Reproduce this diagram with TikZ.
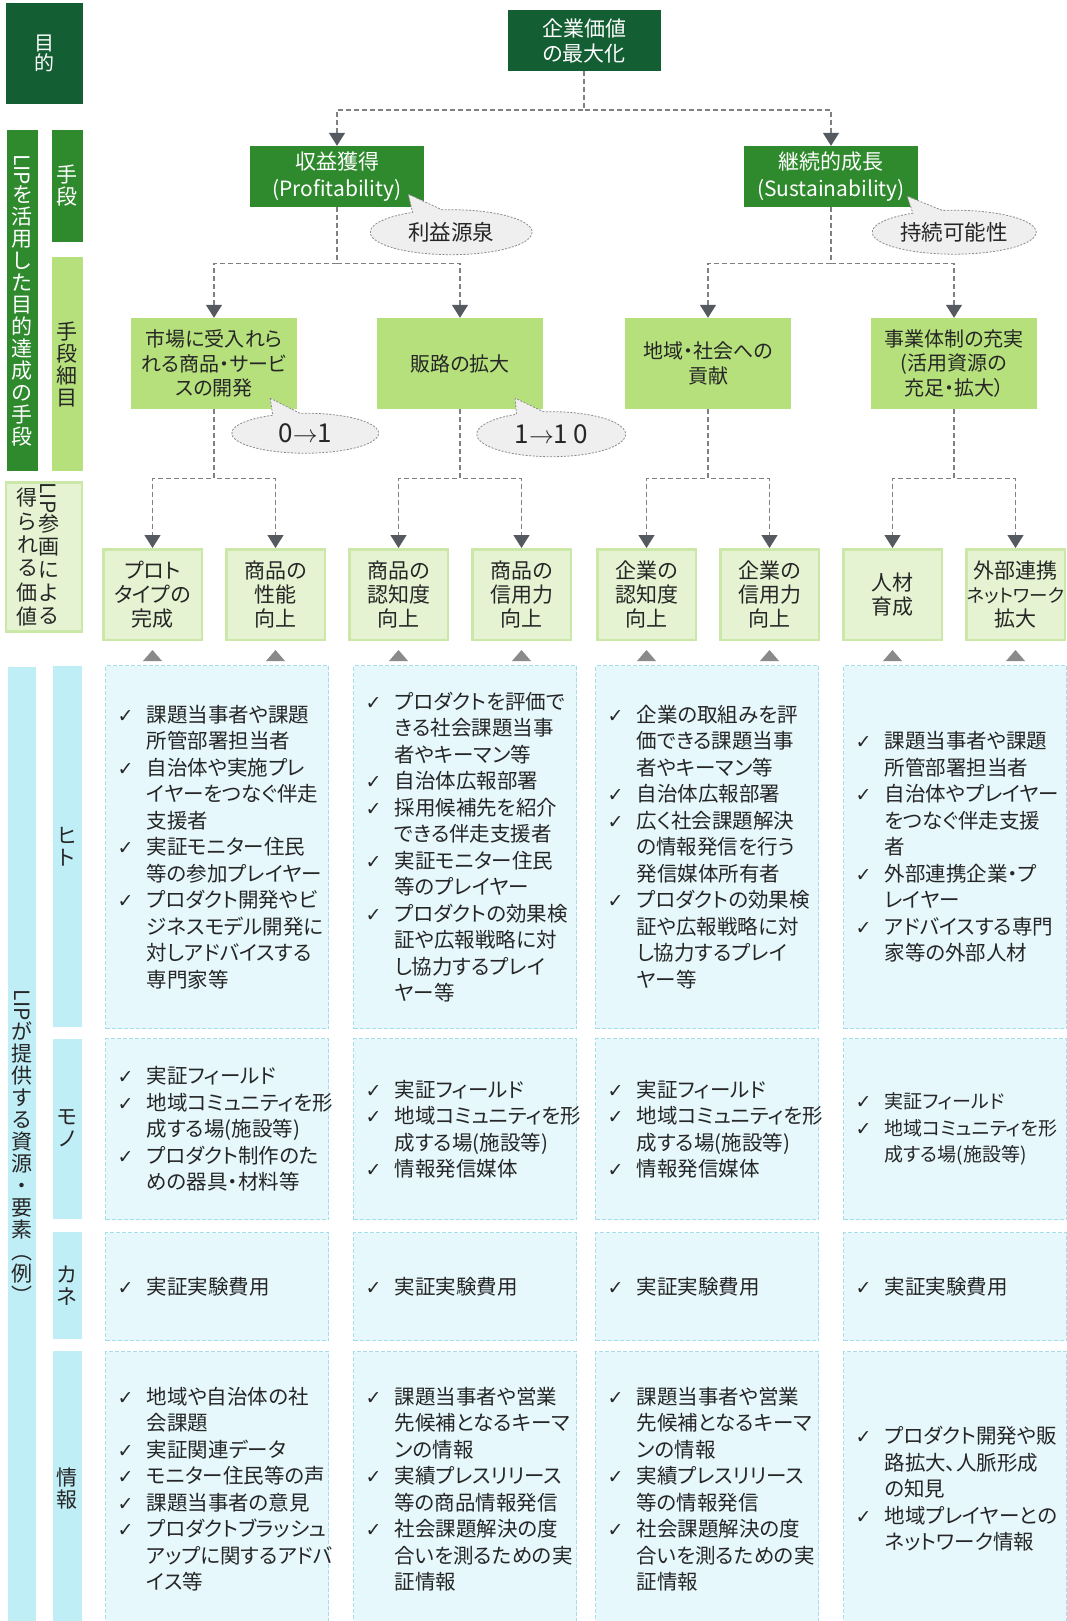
\documentclass[tikz,border=0pt]{standalone}
\usepackage{fontspec}
\setmainfont{Noto Sans CJK JP}[RawFeature=+palt]
\newfontfamily\checkfont{DejaVu Sans}
\usepackage{graphicx}
\usetikzlibrary{arrows.meta,shapes.callouts,calc}
\definecolor{dkgreen}{HTML}{135E33}
\definecolor{midgreen}{HTML}{2F8A2E}
\definecolor{ltgreen}{HTML}{B6E07C}
\definecolor{valfill}{HTML}{E5F3D2}
\definecolor{valdraw}{HTML}{CBE8A8}
\definecolor{cyanbar}{HTML}{BFEEF7}
\definecolor{resfill}{HTML}{E6F8FC}
\definecolor{resdraw}{HTML}{A5DDEB}
\definecolor{callfill}{HTML}{EFEFEF}
\definecolor{calldraw}{HTML}{8C8C8C}
\definecolor{linkgray}{HTML}{808080}
\definecolor{tipgray}{HTML}{555A60}
\definecolor{upgray}{HTML}{8A8A8A}
\definecolor{txtgray}{HTML}{262626}
\newcommand{\ck}{\makebox[29pt][l]{\checkfont\bfseries\fontsize{19pt}{19pt}\selectfont ✓}}
\newcommand{\ckpad}{\hspace*{29pt}}
\newcommand{\lipv}{\rotatebox[origin=c]{-90}{LIP}}

\begin{document}
\begin{tikzpicture}[x=1pt,y=-1pt,
		level 1/.style={level distance=136pt,sibling distance=494pt,
			edge from parent path={(\tikzparentnode.south) -- ++(0,39) -| (\tikzchildnode.north)}},
		level 2/.style={level distance=187pt,sibling distance=246pt,
			edge from parent path={(\tikzparentnode.south) -- ++(0,56) -| (\tikzchildnode.north)}},
		level 3/.style={level distance=231pt,sibling distance=123pt,
			edge from parent path={(\tikzparentnode.south) -- ++(0,69) -| (\tikzchildnode.north)}},
		edge from parent/.style={draw=linkgray,line width=1.4pt,dash pattern=on 5pt off 3pt,
			-{Triangle[width=16pt,length=13pt,color=tipgray]}},
		topbox/.style = {fill=dkgreen,text=white,minimum width=153pt,minimum height=61pt,inner sep=0pt,align=center,font=\fontsize{21pt}{25pt}\selectfont},
		meanbox/.style = {fill=midgreen,text=white,minimum width=174pt,minimum height=61pt,inner sep=0pt,align=center,font=\fontsize{21pt}{27pt}\selectfont},
		subbox/.style = {fill=ltgreen,text=txtgray,minimum width=166pt,minimum height=91pt,inner sep=0pt,align=center,font=\fontsize{20pt}{24.5pt}\selectfont},
		valbox/.style = {fill=valfill,draw=valdraw,solid,line width=2.5pt,text=txtgray,minimum width=98.5pt,minimum height=90.5pt,inner sep=0pt,align=center,font=\fontsize{21pt}{24pt}\selectfont},
		callout/.style = {ellipse callout,fill=callfill,draw=calldraw,line width=0.8pt,dash pattern=on 2pt off 1.5pt,inner sep=0pt,callout pointer arc=22,text=txtgray,font=\fontsize{21.5pt}{22pt}\selectfont},
		vlab/.style = {inner sep=0pt,align=center,text=txtgray,font=\fontsize{21pt}{22pt}\selectfont},
		res/.style = {fill=resfill,draw=resdraw,line width=1.3pt,dash pattern=on 4pt off 2pt,text width=199pt,inner xsep=12pt,inner ysep=0pt,align=left,anchor=north west,text=txtgray,font=\fontsize{20.5pt}{26.5pt}\selectfont},
		hito/.style = {res,minimum height=363pt},
		mono/.style = {res,minimum height=181pt},
		kane/.style = {res,minimum height=108pt},
		joho/.style = {res,minimum height=275pt}]
		\fill[white] (0,0) rectangle (1067,1621);
		\useasboundingbox (0,0) rectangle (1067,1621);
		\clip (0,0) rectangle (1067,1621);

		\node (lpurp) [vlab,fill=dkgreen,text=white,minimum width=77pt,minimum height=101pt,font=\fontsize{20pt}{20pt}\selectfont] at (44.5,53.5) {目\\的};
		\node (lmeans) [vlab,fill=midgreen,text=white,minimum width=31pt,minimum height=341pt] at (22,300.5) {\lipv\\を\\活\\用\\し\\た\\目\\的\\達\\成\\の\\手\\段};
		\node (lmeans1) [vlab,fill=midgreen,text=white,minimum width=31pt,minimum height=112pt] at (67,186) {手\\段};
		\node (ldetail) [vlab,fill=ltgreen,minimum width=31pt,minimum height=214pt] at (67,364) {手\\段\\細\\目};
		\node (lvalue) [vlab,fill=valfill,draw=valdraw,line width=2.5pt,minimum width=76pt,minimum height=148pt,font=\fontsize{21pt}{23pt}\selectfont] at (44,557)
			{\begin{tabular}[t]{@{}c@{}}得\\ら\\れ\\る\\価\\値\end{tabular}\begin{tabular}[t]{@{}c@{}}\lipv\\参\\画\\に\\よ\\る\end{tabular}\hspace*{12pt}};
		\node (lres) [vlab,fill=cyanbar,minimum width=28pt,minimum height=959pt] at (22,1146.5) {\lipv\\が\\提\\供\\す\\る\\資\\源\\・\\要\\素\\︵\\例\\︶};
		\node (lhito) [vlab,fill=cyanbar,minimum width=29pt,minimum height=361pt] at (67,846.5) {ヒ\\ト};
		\node (lmono) [vlab,fill=cyanbar,minimum width=29pt,minimum height=180pt] at (67,1128.5) {モ\\ノ};
		\node (lkane) [vlab,fill=cyanbar,minimum width=29pt,minimum height=107pt] at (67,1285.5) {カ\\ネ};
		\node (ljoho) [vlab,fill=cyanbar,minimum width=29pt,minimum height=275pt] at (67,1488.5) {情\\報};

		\node (maxval) [topbox] at (584,40.5) {企業価値\\の最大化}
		    child{ node (profit) [meanbox] {収益獲得\\(Profitability)}
		            child{ node (market) [subbox] {市場に受入れら\\れる商品・サービ\\スの開発}
		                    child{ node (proto) [valbox] {プロト\\タイプの\\完成}}
		                    child{ node (perf) [valbox] {商品の\\性能\\向上}}
		            }
		            child{ node (channel) [subbox] {販路の拡大}
		                    child{ node (pawr) [valbox] {商品の\\認知度\\向上}}
		                    child{ node (ptrust) [valbox] {商品の\\信用力\\向上}}
		            }
		    }
		    child{ node (sustain) [meanbox] {継続的成長\\(Sustainability)}
		            child{ node (region) [subbox] {地域・社会への\\貢献}
		                    child{ node (cawr) [valbox] {企業の\\認知度\\向上}}
		                    child{ node (ctrust) [valbox] {企業の\\信用力\\向上}}
		            }
		            child{ node (infra) [subbox] {事業体制の充実\\(活用資源の\\充足・拡大）}
		                    child{ node (talent) [valbox] {人材\\育成}}
		                    child{ node (netw) [valbox] {外部連携\\{\fontsize{18.5pt}{24pt}\selectfont ネットワーク}\\拡大}}
		            }
		    };

		\node (rieki) [callout,minimum width=162pt,minimum height=45pt,callout absolute pointer={($(profit.south east)+(-16,-13)$)}] at ($(profit.south east)+(27,25)$) {利益源泉};
		\node (jizoku) [callout,minimum width=164pt,minimum height=44pt,callout absolute pointer={($(sustain.south east)+(-11,-11)$)}] at ($(sustain.south east)+(36,25)$) {持続可能性};
		\node (zero) [callout,minimum width=147pt,minimum height=40pt,callout absolute pointer={($(market.south east)+(-27,-11)$)},font=\fontsize{26pt}{26pt}\selectfont] at ($(market.south east)+(8,24)$) {\textrm{0$\rightarrow$1}};
		\node (ten) [callout,minimum width=149pt,minimum height=45pt,callout absolute pointer={($(channel.south east)+(-28,-11)$)},font=\fontsize{26pt}{26pt}\selectfont] at ($(channel.south east)+(8,25)$) {\textrm{1$\rightarrow$1\hspace{5pt}0}};

		\foreach \vb in {proto,perf,pawr,ptrust,cawr,ctrust,talent,netw}
		    \fill[upgray] ($(\vb.south)+(0,9)$) -- ++(-9.5,11) -- ++(19,0) -- cycle;

		\node (h1) [hito] at (105,665) {\ck 課題当事者や課題\\ \ckpad 所管部署担当者\\ \ck 自治体や実施プレ\\ \ckpad イヤーをつなぐ伴走\\ \ckpad 支援者\\ \ck 実証モニター住民\\ \ckpad 等の参加プレイヤー\\ \ck プロダクト開発やビ\\ \ckpad ジネスモデル開発に\\ \ckpad 対しアドバイスする\\ \ckpad 専門家等};
		\node (h2) [hito] at (353,665) {\ck プロダクトを評価で\\ \ckpad きる社会課題当事\\ \ckpad 者やキーマン等\\ \ck 自治体広報部署\\ \ck 採用候補先を紹介\\ \ckpad できる伴走支援者\\ \ck 実証モニター住民\\ \ckpad 等のプレイヤー\\ \ck プロダクトの効果検\\ \ckpad 証や広報戦略に対\\ \ckpad し協力するプレイ\\ \ckpad ヤー等};
		\node (h3) [hito] at (595,665) {\ck 企業の取組みを評\\ \ckpad 価できる課題当事\\ \ckpad 者やキーマン等\\ \ck 自治体広報部署\\ \ck 広く社会課題解決\\ \ckpad の情報発信を行う\\ \ckpad 発信媒体所有者\\ \ck プロダクトの効果検\\ \ckpad 証や広報戦略に対\\ \ckpad し協力するプレイ\\ \ckpad ヤー等};
		\node (h4) [hito] at (843,665) {\ck 課題当事者や課題\\ \ckpad 所管部署担当者\\ \ck 自治体やプレイヤー\\ \ckpad をつなぐ伴走支援\\ \ckpad 者\\ \ck 外部連携企業・プ\\ \ckpad レイヤー\\ \ck アドバイスする専門\\ \ckpad 家等の外部人材};

		\node (m1) [mono] at (105,1038) {\ck 実証フィールド\\ \ck 地域コミュニティを形\\ \ckpad 成する場(施設等)\\ \ck プロダクト制作のた\\ \ckpad めの器具・材料等};
		\node (m2) [mono] at (353,1038) {\ck 実証フィールド\\ \ck 地域コミュニティを形\\ \ckpad 成する場(施設等)\\ \ck 情報発信媒体};
		\node (m3) [mono] at (595,1038) {\ck 実証フィールド\\ \ck 地域コミュニティを形\\ \ckpad 成する場(施設等)\\ \ck 情報発信媒体};
		\node (m4) [mono,font=\fontsize{19pt}{26.5pt}\selectfont] at (843,1038) {\ck 実証フィールド\\ \ck 地域コミュニティを形\\ \ckpad 成する場(施設等)};

		\node (k1) [kane] at (105,1232) {\ck 実証実験費用};
		\node (k2) [kane] at (353,1232) {\ck 実証実験費用};
		\node (k3) [kane] at (595,1232) {\ck 実証実験費用};
		\node (k4) [kane] at (843,1232) {\ck 実証実験費用};

		\node (j1) [joho] at (105,1351) {\ck 地域や自治体の社\\ \ckpad 会課題\\ \ck 実証関連データ\\ \ck モニター住民等の声\\ \ck 課題当事者の意見\\ \ck プロダクトブラッシュ\\ \ckpad アップに関するアドバ\\ \ckpad イス等};
		\node (j2) [joho] at (353,1351) {\ck 課題当事者や営業\\ \ckpad 先候補となるキーマ\\ \ckpad ンの情報\\ \ck 実績プレスリリース\\ \ckpad 等の商品情報発信\\ \ck 社会課題解決の度\\ \ckpad 合いを測るための実\\ \ckpad 証情報};
		\node (j3) [joho] at (595,1351) {\ck 課題当事者や営業\\ \ckpad 先候補となるキーマ\\ \ckpad ンの情報\\ \ck 実績プレスリリース\\ \ckpad 等の情報発信\\ \ck 社会課題解決の度\\ \ckpad 合いを測るための実\\ \ckpad 証情報};
		\node (j4) [joho] at (843,1351) {\ck プロダクト開発や販\\ \ckpad 路拡大、人脈形成\\ \ckpad の知見\\ \ck 地域プレイヤーとの\\ \ckpad ネットワーク情報};
\end{tikzpicture}
\end{document}
